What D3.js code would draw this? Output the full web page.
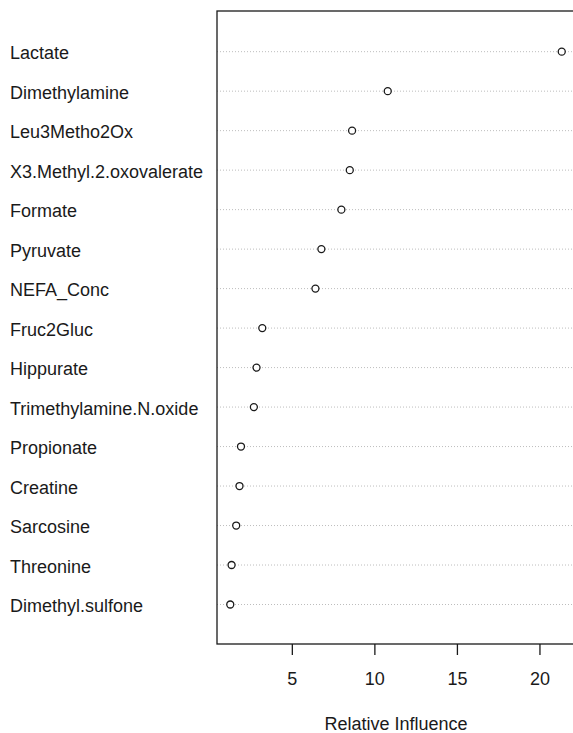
<!DOCTYPE html>
<html>
<head>
<meta charset="utf-8">
<script src="https://cdn.jsdelivr.net/npm/d3@7"></script>
<style>
  html, body { margin: 0; padding: 0; background: #fff; }
  svg { display: block; }
  text { font-family: "Liberation Sans", Arial, sans-serif; fill: #1a1a1a; }
</style>
</head>
<body>
<svg id="chart" width="573" height="733"></svg>
<script>
// Variables, ordered from highest to lowest relative influence
const variables = [
  "Lactate", "Dimethylamine", "Leu3Metho2Ox", "X3.Methyl.2.oxovalerate",
  "Formate", "Pyruvate", "NEFA_Conc", "Fruc2Gluc", "Hippurate",
  "Trimethylamine.N.oxide", "Propionate", "Creatine", "Sarcosine",
  "Threonine", "Dimethyl.sulfone"
];
const influence = [
  21.35, 10.81, 8.65, 8.51, 8.00, 6.79, 6.43, 3.21, 2.86,
  2.70, 1.92, 1.83, 1.63, 1.35, 1.27
];
const xTicks = [5, 10, 15, 20];
const xLabel = "Relative Influence";

const svg = d3.select("#chart");
const box = { left: 217, right: 575, top: 11, bottom: 644 };

// x range padded by 4% on each side of the data range
const lo = d3.min(influence), hi = d3.max(influence);
const pad = (hi - lo) * 0.04;
const x = d3.scaleLinear().domain([lo - pad, hi + pad]).range([box.left, box.right]);

// one row per variable
const y = d3.scaleLinear().domain([-1.03, 15]).range([box.top, box.bottom]);
const rows = variables.map((name, i) => ({ name, value: influence[i], row: i }));

// dotted guide lines across the plot for each row
svg.append("g").selectAll("line").data(rows).join("line")
  .attr("x1", box.left).attr("x2", box.right)
  .attr("y1", d => y(d.row)).attr("y2", d => y(d.row))
  .attr("stroke", "#bdbdbd").attr("stroke-width", 1)
  .attr("stroke-dasharray", "1,2");

// points
svg.append("g").selectAll("circle").data(rows).join("circle")
  .attr("cx", d => x(d.value)).attr("cy", d => y(d.row))
  .attr("r", 3.5)
  .attr("fill", "#fff").attr("stroke", "#1a1a1a").attr("stroke-width", 1.3);

// row labels
svg.append("g").selectAll("text").data(rows).join("text")
  .attr("x", 10).attr("y", d => y(d.row)).attr("dy", 7.5)
  .attr("font-size", 18)
  .text(d => d.name);

// plot frame
svg.append("rect")
  .attr("x", box.left).attr("y", box.top)
  .attr("width", box.right - box.left).attr("height", box.bottom - box.top)
  .attr("fill", "none").attr("stroke", "#1a1a1a").attr("stroke-width", 1.3);

// bottom axis
const axis = svg.append("g").attr("transform", `translate(0,${box.bottom})`)
  .call(d3.axisBottom(x).tickValues(xTicks).tickSize(11).tickPadding(17).tickFormat(d3.format("d")));
axis.select(".domain").remove();
axis.selectAll(".tick line").attr("stroke", "#1a1a1a").attr("stroke-width", 1.3);
axis.selectAll(".tick text")
  .attr("font-size", 18)
  .attr("font-family", "Liberation Sans, Arial, sans-serif")
  .attr("fill", "#1a1a1a");

// axis title
svg.append("text")
  .attr("x", (box.left + box.right) / 2).attr("y", 730)
  .attr("text-anchor", "middle").attr("font-size", 18)
  .text(xLabel);
</script>
</body>
</html>
